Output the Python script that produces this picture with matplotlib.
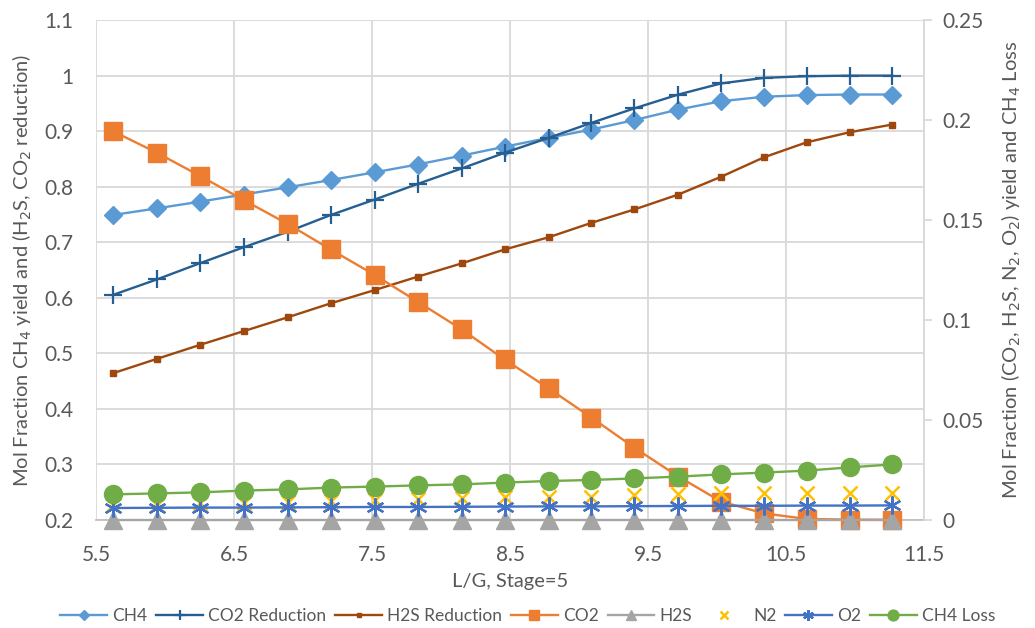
import matplotlib.pyplot as plt
import numpy as np

plt.rcParams['font.family'] = ['Lato', 'DejaVu Sans']

# L/G values (x axis)
lg = [5.62, 5.94, 6.25, 6.57, 6.89, 7.20, 7.52, 7.83, 8.15, 8.46,
      8.78, 9.09, 9.40, 9.72, 10.03, 10.34, 10.65, 10.96, 11.27]

# primary axis series
ch4 = [0.749, 0.761, 0.773, 0.786, 0.799, 0.812, 0.826, 0.840, 0.856, 0.872,
       0.888, 0.903, 0.920, 0.939, 0.954, 0.962, 0.965, 0.966, 0.966]
co2_red = [0.605, 0.633, 0.662, 0.691, 0.719, 0.749, 0.777, 0.805, 0.833, 0.861,
           0.888, 0.915, 0.941, 0.966, 0.986, 0.996, 0.999, 1.000, 1.000]
h2s_red = [0.464, 0.490, 0.515, 0.540, 0.565, 0.590, 0.614, 0.638, 0.662, 0.687,
           0.709, 0.735, 0.759, 0.786, 0.818, 0.853, 0.880, 0.898, 0.912]

# secondary axis series
co2 = [0.1945, 0.1837, 0.1722, 0.1600, 0.1480, 0.1353, 0.1225, 0.1092, 0.0953, 0.0803,
       0.0658, 0.0512, 0.0362, 0.0217, 0.0092, 0.0033, 0.0005, 0.0002, 0.0001]
h2s = [0.0] * 19
n2 = [0.0075, 0.0076, 0.0083, 0.0086, 0.0092, 0.0096, 0.0100, 0.0104, 0.0108, 0.0114,
      0.0117, 0.0117, 0.0125, 0.0128, 0.0133, 0.0136, 0.0137, 0.0137, 0.0137]
o2 = [0.0060, 0.0061, 0.0062, 0.0062, 0.0063, 0.0064, 0.0065, 0.0065, 0.0066, 0.0067,
      0.0068, 0.0068, 0.0069, 0.0070, 0.0071, 0.0071, 0.0072, 0.0072, 0.0073]
ch4_loss = [0.0128, 0.0133, 0.0138, 0.0147, 0.0153, 0.0162, 0.0167, 0.0173, 0.0178, 0.0187,
            0.0195, 0.0200, 0.0208, 0.0217, 0.0228, 0.0237, 0.0247, 0.0263, 0.0278]

fig = plt.figure(figsize=(10.35, 6.28), dpi=100)
ax = fig.add_axes([0.0928, 0.172, 0.8, 0.796])
ax2 = ax.twinx()

grid_c = '#D9D9D9'
txt_c = '#595959'
lw = 1.7

l1, = ax.plot(lg, ch4, color='#5B9BD5', lw=lw, marker='D', ms=9, label='CH4')
l2, = ax.plot(lg, co2_red, color='#255E91', lw=lw, marker='+', ms=13, mew=1.6,
              label='CO2 Reduction')
l3, = ax.plot(lg, h2s_red, color='#9E480E', lw=lw, marker='s', ms=4.5,
              label='H2S Reduction')

l4, = ax2.plot(lg, co2, color='#ED7D31', lw=lw, marker='s', ms=13, label='CO2',
               clip_on=False)
l5, = ax2.plot(lg, h2s, color='#A5A5A5', lw=lw, marker='^', ms=13, label='H2S',
               clip_on=False)
l6, = ax2.plot(lg, n2, color='#FFC000', lw=0, marker='x', ms=10, mew=1.8, label='N2')
l7, = ax2.plot(lg, o2, color='#4472C4', lw=lw, marker=(6, 2, 0), ms=13, mew=1.6,
               label='O2')
l8, = ax2.plot(lg, ch4_loss, color='#70AD47', lw=lw, marker='o', ms=13, label='CH4 Loss')

ax.set_xlim(5.5, 11.5)
ax.set_ylim(0.2, 1.1)
ax2.set_ylim(0, 0.25)
ax.set_xticks(np.arange(5.5, 11.6, 1.0))
ax.set_xticklabels(['5.5', '6.5', '7.5', '8.5', '9.5', '10.5', '11.5'])
ax.set_yticks(np.arange(0.2, 1.11, 0.1))
ax.set_yticklabels(['0.2', '0.3', '0.4', '0.5', '0.6', '0.7', '0.8', '0.9', '1', '1.1'])
ax2.set_yticks([0, 0.05, 0.1, 0.15, 0.2, 0.25])
ax2.set_yticklabels(['0', '0.05', '0.1', '0.15', '0.2', '0.25'])

ax.grid(True, color=grid_c, lw=1.3)
ax.set_axisbelow(True)
for s in ['top', 'left', 'right']:
    ax.spines[s].set_visible(False)
    ax2.spines[s].set_visible(False)
ax.spines['bottom'].set_color('#BFBFBF')
ax.spines['bottom'].set_linewidth(1.3)
ax2.spines['bottom'].set_visible(False)
ax2.spines['right'].set_visible(True)
ax2.spines['right'].set_color(grid_c)
ax2.spines['right'].set_linewidth(1.3)

ax.tick_params(axis='x', length=0, labelsize=15, labelcolor=txt_c, pad=18)
ax.tick_params(axis='y', length=0, labelsize=15, labelcolor=txt_c, pad=16)
ax2.tick_params(axis='y', length=6, width=1.3, color=grid_c, labelsize=15,
                labelcolor=txt_c, pad=7)

ax.set_xlabel('L/G, Stage=5', fontsize=14.5, color=txt_c, labelpad=6)
ax.set_ylabel('Mol Fraction CH$_4$ yield and (H$_2$S, CO$_2$ reduction)',
              fontsize=14.5, color=txt_c, labelpad=8)
ax2.set_ylabel('Mol Fraction (CO$_2$, H$_2$S, N$_2$, O$_2$) yield and CH$_4$ Loss',
               fontsize=14.5, color=txt_c, labelpad=12)

handles = [l1, l2, l3, l4, l5, l6, l7, l8]
leg = fig.legend(handles, [h.get_label() for h in handles], loc='lower center',
                 bbox_to_anchor=(0.51, -0.018), ncol=8, frameon=False, fontsize=12.5,
                 handlelength=2.7, columnspacing=0.5, handletextpad=0.3,
                 markerscale=0.6)
for t in leg.get_texts():
    t.set_color(txt_c)

fig.savefig('out.png', dpi=100)
